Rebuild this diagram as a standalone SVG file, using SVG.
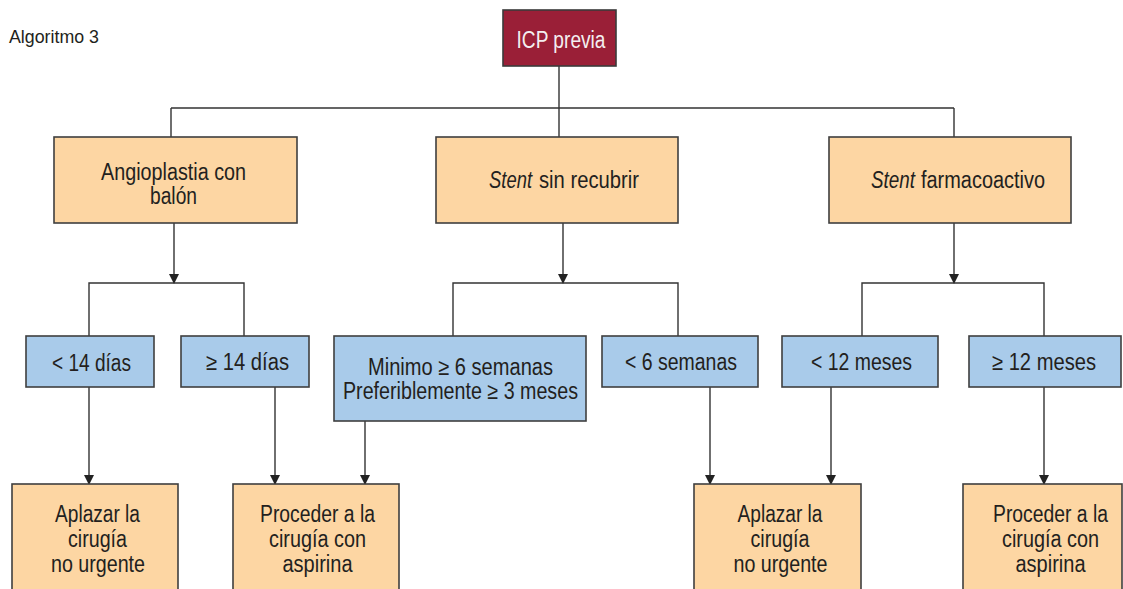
<svg xmlns="http://www.w3.org/2000/svg" width="1123" height="589" viewBox="0 0 1123 589">
<style>
.t{font-family:"Liberation Sans",Arial,sans-serif;font-size:23.5px;fill:#231f20;text-anchor:middle}
.s{text-anchor:start}
.or{fill:#fdd6a3;stroke:#3f3f3f;stroke-width:1.6}
.bl{fill:#a9cbea;stroke:#3f3f3f;stroke-width:1.6}
.ln{fill:none;stroke:#333;stroke-width:1.4}
.it{font-style:italic}
</style>
<defs>
<marker id="ah" markerUnits="userSpaceOnUse" markerWidth="10" markerHeight="12" refX="9" refY="5" orient="auto">
<path d="M0,0 L10,5 L0,10 Z" fill="#222"/>
</marker>
</defs>
<rect width="1123" height="589" fill="#fff"/>
<text x="9" y="43" font-family="Liberation Sans,Arial,sans-serif" font-size="19" fill="#231f20" textLength="90" lengthAdjust="spacingAndGlyphs">Algoritmo 3</text>

<g id="connectors" class="ln">
<path d="M559,66 V137 M171,108 H954 M171,108 V137 M954,108 V137"/>
<path d="M174,223 V283" marker-end="url(#ah)"/>
<path d="M563,223 V283" marker-end="url(#ah)"/>
<path d="M954,223 V283" marker-end="url(#ah)"/>
<path d="M89,336 V283 H244 V336 M453,336 V283 H678 V336 M862,336 V283 H1044 V336"/>
<path d="M89,387 V484" marker-end="url(#ah)"/>
<path d="M275,387 V484" marker-end="url(#ah)"/>
<path d="M365,421 V484" marker-end="url(#ah)"/>
<path d="M710,387 V484" marker-end="url(#ah)"/>
<path d="M831,387 V484" marker-end="url(#ah)"/>
<path d="M1044,387 V484" marker-end="url(#ah)"/>
</g>

<g id="icp">
<rect x="503" y="10" width="113" height="56" fill="#9a1f37" stroke="#3a3a3a" stroke-width="1.6"/>
<text class="t" x="561" y="48" style="fill:#f4eef0" textLength="89" lengthAdjust="spacingAndGlyphs">ICP previa</text>
</g>

<g id="angioplastia">
<rect class="or" x="54" y="137" width="243" height="86"/>
<text class="t" x="173.5" y="180" textLength="145" lengthAdjust="spacingAndGlyphs">Angioplastia con</text>
<text class="t" x="173.5" y="204" textLength="47" lengthAdjust="spacingAndGlyphs">balón</text>
</g>

<g id="stent-sin">
<rect class="or" x="436" y="137" width="242" height="86"/>
<text class="t s it" x="489" y="188" textLength="43" lengthAdjust="spacingAndGlyphs">Stent</text>
<text class="t s" x="539" y="188" textLength="100" lengthAdjust="spacingAndGlyphs">sin recubrir</text>
</g>

<g id="stent-farma">
<rect class="or" x="829" y="137" width="242" height="86"/>
<text class="t s it" x="871" y="188" textLength="44" lengthAdjust="spacingAndGlyphs">Stent</text>
<text class="t s" x="921" y="188" textLength="124" lengthAdjust="spacingAndGlyphs">farmacoactivo</text>
</g>

<g id="lt14">
<rect class="bl" x="26" y="336" width="128" height="51"/>
<text class="t" x="91.5" y="371" textLength="79" lengthAdjust="spacingAndGlyphs">&lt; 14 días</text>
</g>

<g id="ge14">
<rect class="bl" x="181" y="336" width="128" height="51"/>
<text class="t" x="247.5" y="370" textLength="83" lengthAdjust="spacingAndGlyphs">≥ 14 días</text>
</g>

<g id="minimo">
<rect class="bl" x="334" y="336" width="252" height="85"/>
<text class="t" x="460.5" y="375" textLength="185" lengthAdjust="spacingAndGlyphs">Minimo ≥ 6 semanas</text>
<text class="t" x="460.5" y="399" textLength="235" lengthAdjust="spacingAndGlyphs">Preferiblemente ≥ 3 meses</text>
</g>

<g id="lt6">
<rect class="bl" x="602" y="336" width="156" height="51"/>
<text class="t" x="681" y="370" textLength="112" lengthAdjust="spacingAndGlyphs">&lt; 6 semanas</text>
</g>

<g id="lt12">
<rect class="bl" x="782" y="336" width="156" height="51"/>
<text class="t" x="861.5" y="370" textLength="101" lengthAdjust="spacingAndGlyphs">&lt; 12 meses</text>
</g>

<g id="ge12">
<rect class="bl" x="969" y="336" width="152" height="51"/>
<text class="t" x="1044" y="370" textLength="104" lengthAdjust="spacingAndGlyphs">≥ 12 meses</text>
</g>

<g id="aplazar-1">
<rect class="or" x="12" y="484" width="166" height="120"/>
<text class="t" x="97.5" y="522" textLength="85" lengthAdjust="spacingAndGlyphs">Aplazar la</text>
<text class="t" x="97.5" y="547" textLength="59" lengthAdjust="spacingAndGlyphs">cirugía</text>
<text class="t" x="98" y="572" textLength="94" lengthAdjust="spacingAndGlyphs">no urgente</text>
</g>

<g id="proceder-1">
<rect class="or" x="233" y="484" width="166" height="120"/>
<text class="t" x="317.5" y="522" textLength="115" lengthAdjust="spacingAndGlyphs">Proceder a la</text>
<text class="t" x="317.5" y="547" textLength="97" lengthAdjust="spacingAndGlyphs">cirugía con</text>
<text class="t" x="317.5" y="572" textLength="70" lengthAdjust="spacingAndGlyphs">aspirina</text>
</g>

<g id="aplazar-2">
<rect class="or" x="694" y="484" width="167" height="120"/>
<text class="t" x="780" y="522" textLength="85" lengthAdjust="spacingAndGlyphs">Aplazar la</text>
<text class="t" x="780" y="547" textLength="59" lengthAdjust="spacingAndGlyphs">cirugía</text>
<text class="t" x="780.5" y="572" textLength="94" lengthAdjust="spacingAndGlyphs">no urgente</text>
</g>

<g id="proceder-2">
<rect class="or" x="963" y="484" width="159" height="120"/>
<text class="t" x="1050.5" y="522" textLength="115" lengthAdjust="spacingAndGlyphs">Proceder a la</text>
<text class="t" x="1050.5" y="547" textLength="97" lengthAdjust="spacingAndGlyphs">cirugía con</text>
<text class="t" x="1050.5" y="572" textLength="70" lengthAdjust="spacingAndGlyphs">aspirina</text>
</g>
</svg>
